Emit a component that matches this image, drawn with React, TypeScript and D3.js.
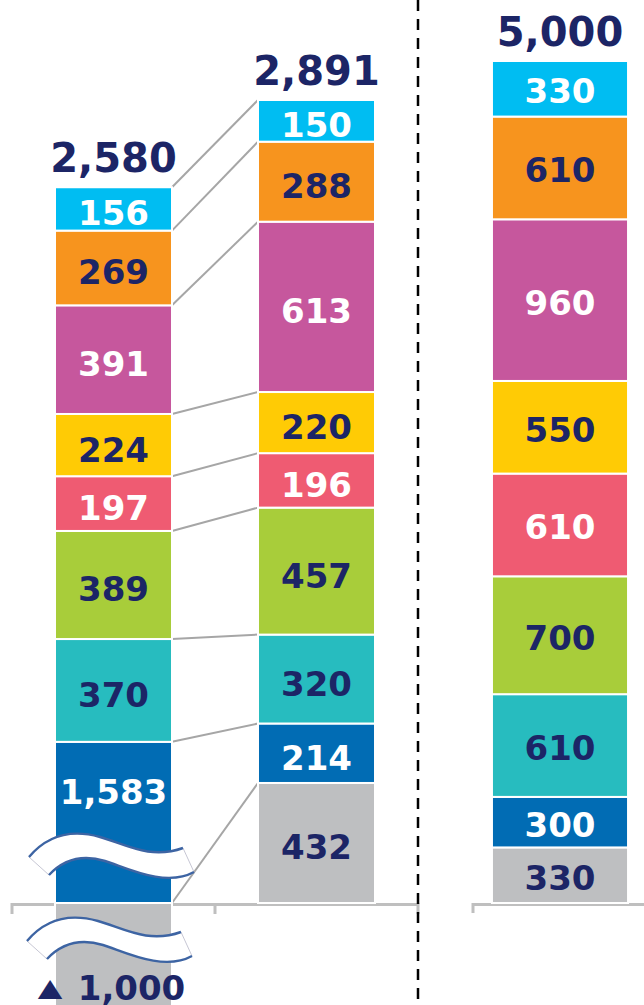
import React from "react";
import * as d3 from "d3";

// ---- data ----
const categories = ["A", "B", "C"];
const segmentKeys = ["gray", "blue", "teal", "green", "pink", "yellow", "magenta", "orange", "cyan"];
const segmentColors = ["#BEBFC1", "#016CB4", "#27BCBF", "#A8CD3A", "#EF5B72", "#FFCB05", "#C6579D", "#F7941E", "#00BDF2"];
const whiteLabelKeys = ["blue", "pink", "magenta", "cyan"];
const barA = [-1000, 1583, 370, 389, 197, 224, 391, 269, 156];
const barB = [432, 214, 320, 457, 196, 220, 613, 288, 150];
const barC = [330, 300, 610, 700, 610, 550, 960, 610, 330];
const totalLabels = ["2,580", "2,891", "5,000"];
const negativeLabel = "1,000";
const shownBreakValue = 580; // height the broken blue bar is drawn at

const W = 644;
const H = 1005;
const NAVY = "#1C2566";
const FONT = "'DejaVu Sans', Verdana, sans-serif";

export default function App() {
  const axisY = 903;
  const values = [barA, barB, barC];
  const rows = categories.map((c, j) => {
    const r: any = { cat: c };
    segmentKeys.forEach((k, i) => (r[k] = values[j][i]));
    return r;
  });
  const series = d3.stack<any>().keys(segmentKeys).offset(d3.stackOffsetDiverging)(rows);

  const xL = d3.scaleBand().domain(categories.slice(0, 2)).range([12, 418]).paddingInner(0.4236).paddingOuter(0.2118);
  const xR = d3.scaleBand().domain(categories.slice(2)).range([473, 647]).paddingInner(0.218).paddingOuter(0.109);
  const xOf = (c: string) => (categories.indexOf(c) < 2 ? xL(c)! : xR(c)!);
  const bwOf = (c: string) => (categories.indexOf(c) < 2 ? xL.bandwidth() : xR.bandwidth());

  const topB = d3.sum(barB);
  const yLeft = d3.scaleLinear().domain([0, topB]).range([axisY, 100]);
  const yRight = d3.scaleLinear().domain([0, d3.sum(barC)]).range([axisY, 61]);
  const blueA = barA[1];
  const restA = d3.sum(barA.slice(2));
  const yBroken = d3
    .scaleLinear()
    .domain([barA[0], 0, blueA, blueA + restA])
    .range([yLeft(barA[0]), yLeft(0), yLeft(shownBreakValue), yLeft(shownBreakValue + restA)]);
  const scales = [yBroken, yLeft, yRight];
  const labelOffset = [16.5, 16.5, 14.5];

  const waveTop = axisY - 69;

  // connectors between bar A and bar B (top of each segment)
  const connectors = segmentKeys.map((k, i) => {
    const sA = series[i][0];
    const sB = series[i][1];
    const topAv = Math.max(sA[0], sA[1]);
    return {
      x1: xL("A")! + xL.bandwidth(),
      y1: yBroken(topAv),
      x2: xL("B")!,
      y2: yLeft(sB[1]),
    };
  });

  const stepL = xL.step();
  const leftTicks = [0, 1, 2].map((i) => 12 + i * stepL);

  const waveFill =
    "M-26,-46 C-5,-71 20,-73 45,-66 S95,-43 128,-55 L139,-31 C110,-15 70,-36 50,-42 C30,-48 10,-45 -6,-28 Z";
  const waveUpper = "M-26,-46 C-5,-71 20,-73 45,-66 S95,-43 128,-55";
  const waveLower = "M-6,-28 C10,-45 30,-48 50,-42 S110,-15 139,-31";
  const Wave = ({ tx, ty }: { tx: number; ty: number }) => (
    <g transform={`translate(${tx},${ty})`}>
      <path d={waveFill} fill="#fff" stroke="none" />
      <line x1={-26} y1={-46} x2={-6} y2={-28} stroke="#B8B8C8" strokeWidth={0.8} />
      <line x1={128} y1={-55} x2={139} y2={-31} stroke="#B8B8C8" strokeWidth={0.8} />
      <path d={waveUpper} fill="none" stroke="#3D64A3" strokeWidth={2.4} />
      <path d={waveLower} fill="none" stroke="#3D64A3" strokeWidth={2.4} />
    </g>
  );

  const barAx = xL("A")!;
  const barAc = barAx + xL.bandwidth() / 2;

  return (
    <svg
      width={W}
      height={H}
      viewBox={`0 0 ${W} ${H}`}
      style={{ position: "absolute", left: 0, top: 0, display: "block", background: "#fff" }}
      fontFamily={FONT}
    >
      {/* cut-off heading fragments */}
      {[108, 313, 503, 528].map((x, i) => (
        <text key={i} x={x} y={-4} fontSize={30} fontWeight="bold" fill={NAVY} textAnchor="middle">
          {i % 2 === 0 ? "(" : ")"}
        </text>
      ))}

      {/* axes */}
      <line x1={12} x2={418} y1={axisY + 1.5} y2={axisY + 1.5} stroke="#BFBFBF" strokeWidth={3} />
      {leftTicks.map((t, i) => (
        <line key={i} x1={t} x2={t} y1={axisY} y2={axisY + 11} stroke="#BFBFBF" strokeWidth={3} />
      ))}
      <line x1={473} x2={W + 5} y1={axisY + 1.5} y2={axisY + 1.5} stroke="#BFBFBF" strokeWidth={3} />
      <line x1={473} x2={473} y1={axisY} y2={axisY + 10} stroke="#BFBFBF" strokeWidth={3} />

      {/* connectors */}
      {connectors.map((c, i) => (
        <line key={i} x1={c.x1} y1={c.y1} x2={c.x2} y2={c.y2} stroke="#A6A6A6" strokeWidth={2} />
      ))}

      {/* bars */}
      {series.map((s, i) =>
        s.map((d, j) => {
          const c = categories[j];
          const y = scales[j];
          const yTop = Math.min(y(d[0]), y(d[1]));
          const yBot = Math.max(y(d[0]), y(d[1]));
          return (
            <rect
              key={`${i}-${j}`}
              x={xOf(c)}
              y={yTop}
              width={bwOf(c)}
              height={Math.max(0, yBot - yTop)}
              fill={segmentColors[i]}
              stroke="#fff"
              strokeWidth={2}
            />
          );
        })
      )}

      {/* break symbols */}
      <Wave tx={barAx} ty={axisY} />
      <Wave tx={barAx - 2} ty={axisY + 84} />

      {/* inner labels */}
      {series.map((s, i) =>
        s.map((d, j) => {
          const c = categories[j];
          const v = values[j][i];
          if (v < 0) return null;
          const y = scales[j];
          let cy = (y(d[0]) + y(d[1])) / 2;
          if (j === 0 && i === 1) cy = (y(d[1]) + waveTop) / 2;
          return (
            <text
              key={`l${i}-${j}`}
              x={xOf(c) + bwOf(c) / 2}
              y={cy + labelOffset[j]}
              textAnchor="middle"
              fontSize={34}
              fontWeight="bold"
              fill={whiteLabelKeys.includes(segmentKeys[i]) ? "#fff" : NAVY}
            >
              {d3.format(",")(v)}
            </text>
          );
        })
      )}

      {/* negative label */}
      <text transform={`translate(50,996) scale(1,0.78)`} textAnchor="middle" fontSize={32} fontWeight="bold" fill={NAVY}>
        ▲
      </text>
      <text x={barAc + 18} y={1000} textAnchor="middle" fontSize={34} fontWeight="bold" fill={NAVY}>
        {negativeLabel}
      </text>

      {/* totals */}
      {categories.map((c, j) => {
        const top = scales[j](d3.max(series, (s) => s[j][1])!);
        return (
          <text
            key={`t${j}`}
            x={xOf(c) + bwOf(c) / 2}
            y={top - 15.5}
            textAnchor="middle"
            fontSize={40}
            fontWeight="bold"
            fill={NAVY}
          >
            {totalLabels[j]}
          </text>
        );
      })}

      {/* dashed divider */}
      <line x1={418} x2={418} y1={0} y2={H} stroke="#000" strokeWidth={2.5} strokeDasharray="11,8" />
    </svg>
  );
}
